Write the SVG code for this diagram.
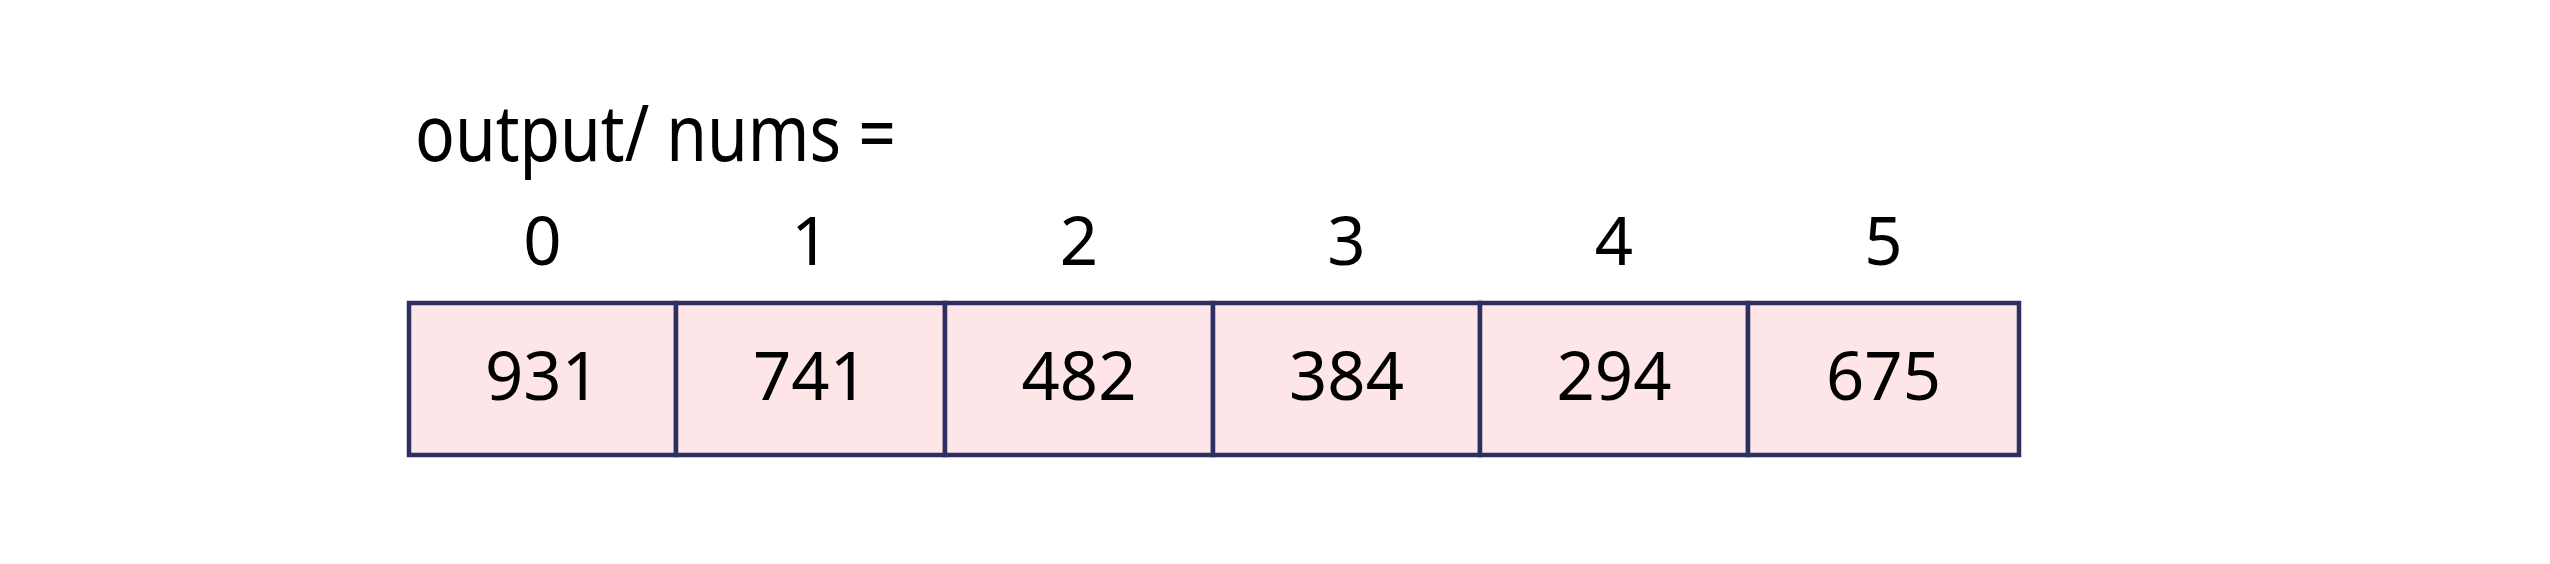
<svg xmlns="http://www.w3.org/2000/svg" width="2550" height="564" viewBox="0 0 2550 564">
<style>
.cell{fill:#fee5e8;stroke:#2d2f62;stroke-width:4.5}
.t{font-family:"Noto Sans","Open Sans","DejaVu Sans",sans-serif;fill:#000}
.v{font-size:67px;text-anchor:middle}
.title{font-size:79px}
</style>
<rect width="2550" height="564" fill="#ffffff"/>
<g id="title"><text class="t title" x="415" y="161" textLength="481" lengthAdjust="spacingAndGlyphs">output/ nums =</text></g>
<g id="indices">
<text class="t v" x="542.5" y="265">0</text>
<text class="t v" x="810.5" y="265">1</text>
<text class="t v" x="1079" y="265">2</text>
<text class="t v" x="1346.5" y="265">3</text>
<text class="t v" x="1614" y="265">4</text>
<text class="t v" x="1883.5" y="265">5</text>
</g>
<g id="cell0"><rect class="cell" x="409" y="303" width="267" height="152"/><text class="t v" x="542.5" y="400">931</text></g>
<g id="cell1"><rect class="cell" x="676" y="303" width="269" height="152"/><text class="t v" x="810.5" y="400">741</text></g>
<g id="cell2"><rect class="cell" x="945" y="303" width="268" height="152"/><text class="t v" x="1079" y="400">482</text></g>
<g id="cell3"><rect class="cell" x="1213" y="303" width="267" height="152"/><text class="t v" x="1346.5" y="400">384</text></g>
<g id="cell4"><rect class="cell" x="1480" y="303" width="268" height="152"/><text class="t v" x="1614" y="400">294</text></g>
<g id="cell5"><rect class="cell" x="1748" y="303" width="271" height="152"/><text class="t v" x="1883.5" y="400">675</text></g>
<g id="connectors"></g>
</svg>
